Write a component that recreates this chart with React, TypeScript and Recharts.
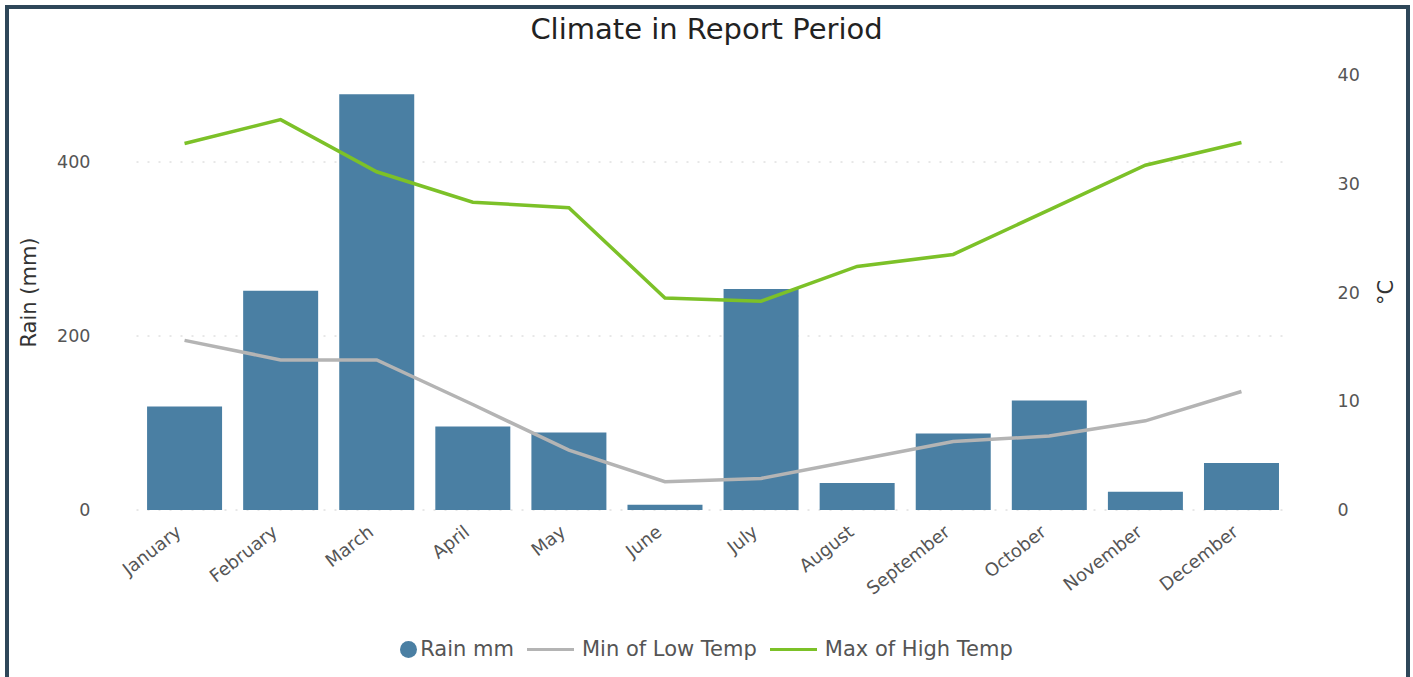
import {
  ComposedChart,
  Bar,
  Line,
  XAxis,
  YAxis,
  CartesianGrid,
  Legend,
} from 'recharts';

const months = [
  'January', 'February', 'March', 'April', 'May', 'June',
  'July', 'August', 'September', 'October', 'November', 'December',
];
const rainMm = [119, 252, 478, 96, 89, 6, 254, 31, 88, 126, 21, 54];
const minLowTemp = [15.6, 13.8, 13.8, 9.7, 5.5, 2.6, 2.9, 4.6, 6.3, 6.8, 8.2, 10.9];
const maxHighTemp = [33.7, 35.9, 31.1, 28.3, 27.8, 19.5, 19.2, 22.4, 23.5, 27.6, 31.7, 33.8];
const rainTicks = [0, 200, 400];
const tempTicks = [0, 10, 20, 30, 40];

const data = months.map((month, i) => ({
  month,
  rain: rainMm[i],
  low: minLowTemp[i],
  high: maxHighTemp[i],
}));

const FONT = '"DejaVu Sans", Verdana, sans-serif';
const BAR = '#4a7fa3';
const LOW = '#b4b4b4';
const HIGH = '#7cc128';

// month names sit slanted, their end just left of the band centre
const MonthTick = ({ x, y, payload }: any) => {
  const ax = x - 10;
  const ay = y + 6;
  return (
    <text
      x={ax}
      y={ay}
      transform={`rotate(-38, ${ax}, ${ay})`}
      textAnchor="end"
      dy="0.72em"
      fontSize={18}
      fill="#555"
      fontFamily={FONT}
    >
      {payload.value}
    </text>
  );
};

const LegendRow = () => {
  const items = [
    { label: 'Rain mm', color: BAR, kind: 'dot' },
    { label: 'Min of Low Temp', color: LOW, kind: 'line' },
    { label: 'Max of High Temp', color: HIGH, kind: 'line' },
  ];
  return (
    <div
      style={{
        display: 'flex',
        justifyContent: 'center',
        alignItems: 'center',
        fontFamily: FONT,
        fontSize: 21,
        color: '#555',
        gap: 13,
      }}
    >
      {items.map((it) => (
        <div key={it.label} style={{ display: 'flex', alignItems: 'center', gap: it.kind === 'dot' ? 3 : 8 }}>
          {it.kind === 'dot' ? (
            <span
              style={{ width: 17, height: 17, borderRadius: '50%', background: it.color, display: 'inline-block' }}
            />
          ) : (
            <span style={{ width: 47, height: 3, background: it.color, display: 'inline-block' }} />
          )}
          <span>{it.label}</span>
        </div>
      ))}
    </div>
  );
};

export default function App() {
  return (
    <div style={{ position: 'fixed', left: 0, top: 0, width: 1413, height: 677, background: '#fff', overflow: 'hidden' }}>
      <div
        style={{
          position: 'absolute',
          top: 12,
          left: 0,
          width: 1413,
          textAlign: 'center',
          fontFamily: FONT,
          fontSize: 29,
          color: '#222',
        }}
      >
        Climate in Report Period
      </div>
      <div style={{ position: 'absolute', left: 0, top: 0 }}>
        <ComposedChart
          width={1413}
          height={677}
          data={data}
          margin={{ top: 75, right: 0, bottom: 0, left: 0 }}
          barCategoryGap="11%"
        >
          <CartesianGrid
            yAxisId="rain"
            vertical={false}
            horizontalValues={rainTicks}
            stroke="#d0d0d0"
            strokeDasharray="2 9"
          />
          <XAxis
            dataKey="month"
            axisLine={false}
            tickLine={false}
            interval={0}
            height={127}
            tick={<MonthTick />}
          />
          <YAxis
            yAxisId="rain"
            orientation="left"
            width={136.5}
            domain={[0, 500]}
            ticks={rainTicks}
            axisLine={false}
            tickLine={false}
            tickMargin={40}
            tick={{ fill: '#555', fontSize: 17.5, fontFamily: FONT }}
            label={{
              value: 'Rain (mm)',
              angle: -90,
              position: 'insideLeft',
              offset: 29,
              style: { textAnchor: 'middle', fill: '#333', fontSize: 21, fontFamily: FONT },
            }}
          />
          <YAxis
            yAxisId="temp"
            orientation="right"
            width={123.5}
            domain={[0, 40]}
            ticks={tempTicks}
            axisLine={false}
            tickLine={false}
            tickMargin={42}
            tick={{ fill: '#555', fontSize: 17.5, fontFamily: FONT }}
            label={{
              value: '°C',
              angle: -90,
              position: 'insideLeft',
              offset: 96,
              style: { textAnchor: 'middle', fill: '#333', fontSize: 21, fontFamily: FONT },
            }}
          />
          <Legend verticalAlign="bottom" height={40} content={<LegendRow />} />
          <Bar yAxisId="rain" dataKey="rain" name="Rain mm" fill={BAR} isAnimationActive={false} />
          <Line
            yAxisId="temp"
            type="linear"
            dataKey="low"
            name="Min of Low Temp"
            stroke={LOW}
            strokeWidth={3.5}
            dot={false}
            isAnimationActive={false}
          />
          <Line
            yAxisId="temp"
            type="linear"
            dataKey="high"
            name="Max of High Temp"
            stroke={HIGH}
            strokeWidth={3.5}
            dot={false}
            isAnimationActive={false}
          />
        </ComposedChart>
      </div>
      <div
        style={{
          position: 'absolute',
          left: 5,
          top: 5,
          width: 1405,
          height: 676,
          boxSizing: 'border-box',
          border: '4px solid #2e4759',
          borderBottomWidth: 2,
          pointerEvents: 'none',
        }}
      />
    </div>
  );
}
